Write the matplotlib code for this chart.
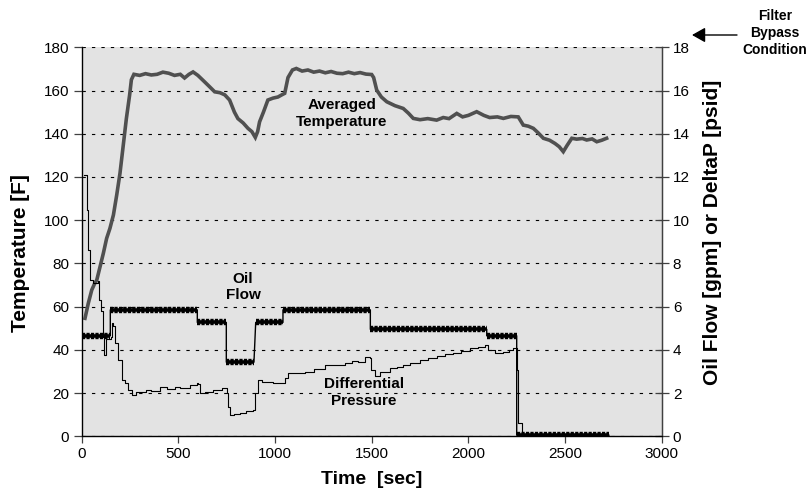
import matplotlib
matplotlib.use("Agg")
import matplotlib.pyplot as plt
import numpy as np

plt.rcParams['font.family'] = ['Liberation Sans', 'DejaVu Sans']

# ---------------- data ----------------
# Averaged temperature [F] (left axis)
temp_time = [17, 34, 52, 66, 78, 95, 112, 129, 146, 164,
             181, 198, 212, 231, 248, 257, 270, 300, 330, 360,
             390, 420, 450, 480, 510, 532, 555, 576, 601, 630,
             653, 688, 715, 740, 765, 790, 808, 835, 860, 880,
             898, 910, 920, 940, 963, 990, 1015, 1035, 1050, 1067,
             1090, 1110, 1140, 1170, 1200, 1230, 1260, 1290, 1320, 1350,
             1380, 1410, 1440, 1470, 1500, 1510, 1526, 1550, 1578, 1620,
             1663, 1690, 1715, 1750, 1790, 1836, 1870, 1900, 1940, 1970,
             2000, 2043, 2080, 2110, 2150, 2181, 2220, 2258, 2284, 2310,
             2336, 2360, 2388, 2420, 2448, 2470, 2491, 2510, 2535, 2560,
             2590, 2612, 2640, 2664, 2690, 2715]
temp_F = [54.6, 61.5, 67.7, 70.5, 72.3, 78.5, 84.7, 91.6, 96.2, 102.4,
          111.6, 121.7, 132.4, 147.0, 158.0, 165.0, 167.5, 167.0, 167.8, 167.2,
          167.5, 168.5, 168.0, 167.0, 167.5, 165.8, 167.5, 168.6, 167.0, 164.5,
          162.5, 159.4, 159.0, 158.0, 155.6, 150.0, 147.0, 145.0, 142.5, 141.0,
          138.3, 141.0, 145.5, 150.0, 155.6, 156.5, 157.0, 158.0, 158.7, 166.0,
          169.5, 170.2, 169.0, 169.5, 168.5, 169.0, 168.2, 168.8, 168.0, 167.8,
          168.5, 167.8, 168.3, 167.6, 167.4, 166.0, 160.2, 157.0, 154.8, 153.0,
          151.7, 149.5, 147.1, 146.5, 147.0, 146.3, 147.5, 147.0, 149.4, 147.8,
          148.5, 150.2, 148.5, 147.5, 147.8, 147.1, 148.0, 147.8, 144.0, 143.5,
          142.5, 140.5, 137.9, 137.0, 135.5, 134.0, 131.7, 134.5, 137.9, 137.5,
          137.8, 137.1, 137.6, 136.3, 137.0, 137.9]

# Oil flow [gpm] (right axis): constant-flow segments
flow_start = [0, 148, 598, 748, 900, 1041, 1493, 2095, 2250]
flow_end = [148, 598, 748, 891, 1041, 1493, 2095, 2250, 2727]
flow_gpm = [4.65, 5.85, 5.27, 3.43, 5.27, 5.85, 4.95, 4.65, 0.05]

# Differential pressure [psid] (right axis)
dp_time = [12, 26, 28, 34, 42, 60, 86, 92, 100, 108,
           115, 125, 150, 155, 160, 172, 189, 207, 224, 241,
           259, 280, 301, 330, 360, 405, 440, 480, 508, 540,
           560, 594, 600, 612, 640, 681, 724, 750, 758, 767,
           790, 819, 850, 888, 896, 913, 935, 957, 990, 1015,
           1050, 1067, 1100, 1153, 1200, 1257, 1300, 1360, 1400, 1430,
           1464, 1490, 1498, 1515, 1543, 1595, 1630, 1664, 1700, 1750,
           1790, 1836, 1880, 1922, 1960, 2008, 2050, 2086, 2103, 2138,
           2181, 2210, 2233, 2245, 2250, 2258, 2276, 2300]
dp_psid = [12.09, 12.0, 10.47, 8.62, 7.23, 7.1, 7.2, 6.3, 5.8, 4.6,
           3.75, 4.5, 4.6, 5.23, 5.1, 4.3, 3.53, 2.6, 2.45, 2.14,
           1.91, 2.05, 2.06, 2.15, 2.1, 2.29, 2.2, 2.3, 2.22, 2.25,
           2.37, 2.45, 2.4, 1.99, 2.05, 2.14, 2.22, 1.99, 1.37, 0.99,
           1.02, 1.06, 1.15, 1.22, 1.99, 2.6, 2.5, 2.52, 2.45, 2.45,
           2.68, 2.91, 2.95, 2.99, 3.1, 3.3, 3.3, 3.38, 3.5, 3.45,
           3.68, 3.61, 3.07, 2.79, 2.99, 3.15, 3.2, 3.3, 3.4, 3.53,
           3.6, 3.71, 3.8, 3.87, 3.95, 4.07, 4.15, 4.22, 3.99, 3.84,
           3.91, 4.0, 4.07, 4.1, 3.07, 0.60, 0.06, 0.05]

x_ticks = [0, 500, 1000, 1500, 2000, 2500, 3000]
temp_ticks = [0, 20, 40, 60, 80, 100, 120, 140, 160, 180]
right_ticks = [0, 2, 4, 6, 8, 10, 12, 14, 16, 18]

# ---------------- figure ----------------
W, H = 807, 498
fig = plt.figure(figsize=(W / 100, H / 100), dpi=100)
ax = fig.add_axes([81.7 / W, 1 - 436.3 / H, 580 / W, 389 / H])
ax.set_facecolor('#e3e3e3')
ax.set_xlim(0, 3000)
ax.set_ylim(0, 180)
ax.set_xticks(x_ticks)
ax.set_yticks(temp_ticks)
ax.yaxis.grid(True, color='black', linestyle=(0, (3, 5.5)), linewidth=0.8)
ax.set_axisbelow(True)
ax.spines['top'].set_visible(False)
for s in ['left', 'bottom', 'right']:
    ax.spines[s].set_color('#404040')
    ax.spines[s].set_linewidth(1.0)

ax.tick_params(axis='y', direction='out', length=6, width=0.9, color='#404040',
               labelsize=11, pad=3)
ax.tick_params(axis='x', direction='out', length=5, width=0.9, color='#404040',
               labelsize=11, pad=3)

ax2 = ax.twinx()
ax2.set_ylim(0, 18)
ax2.set_yticks(right_ticks)
ax2.spines['top'].set_visible(False)
ax2.spines['right'].set_color('#404040')
ax2.tick_params(axis='y', direction='inout', length=10, width=0.9, color='#404040',
                labelsize=11, pad=3)

# temperature
ax.plot(temp_time, temp_F, color='#505050', linewidth=2.6, solid_joinstyle='miter',
        zorder=4)

# oil flow: thin connecting line + thick comb-like band on each segment
conn_t, conn_v = [], []
for s, e, v in zip(flow_start, flow_end, flow_gpm):
    conn_t += [s, e]
    conn_v += [v, v]
ax2.plot(conn_t, conn_v, color='black', linewidth=1.0, zorder=3)
for s, e, v in zip(flow_start, flow_end, flow_gpm):
    ax2.plot([s, e], [v, v], color='black', linewidth=4.6,
             linestyle=(0, (0.5, 0.2)), dash_capstyle='butt', zorder=3)
    ax2.plot([s, e], [v, v], color='black', linewidth=2.6,
             solid_capstyle='butt', zorder=3)

# differential pressure
ax2.plot(dp_time, dp_psid, color='black', linewidth=0.8, drawstyle='steps-post',
         zorder=3)

# labels
ax.set_ylabel('Temperature [F]', fontsize=15, fontweight='bold')
ax.yaxis.set_label_coords(-0.09, 0.47)
ax2.set_ylabel('Oil Flow [gpm] or DeltaP [psid]', fontsize=15, fontweight='bold')
ax2.yaxis.set_label_coords(1.072, 0.524)
ax.set_xlabel('Time  [sec]', fontsize=14, fontweight='bold')
ax.xaxis.set_label_coords(0.5, -0.09)

ax.text(1345, 149.4, 'Averaged\nTemperature', ha='center', va='center',
        fontsize=11, fontweight='bold', linespacing=1.2, zorder=5)
ax2.text(834, 6.89, 'Oil\nFlow', ha='center', va='center',
         fontsize=11, fontweight='bold', linespacing=1.2, zorder=5)
ax2.text(1459, 2.03, 'Differential\nPressure', ha='center', va='center',
         fontsize=11, fontweight='bold', linespacing=1.2, zorder=5)

fig.text(775 / W, 1 - 33 / H, 'Filter\nBypass\nCondition', ha='center', va='center',
         fontsize=10, fontweight='bold', linespacing=1.3)
ax.annotate('', xy=(692, H - 35), xycoords='figure pixels',
            xytext=(737, H - 35), textcoords='figure pixels',
            arrowprops=dict(arrowstyle='-|>,head_length=0.8,head_width=0.45',
                            color='black', lw=1.0, mutation_scale=10,
                            shrinkA=0, shrinkB=0),
            annotation_clip=False)

fig.savefig('out.png', dpi=100, facecolor='white')
